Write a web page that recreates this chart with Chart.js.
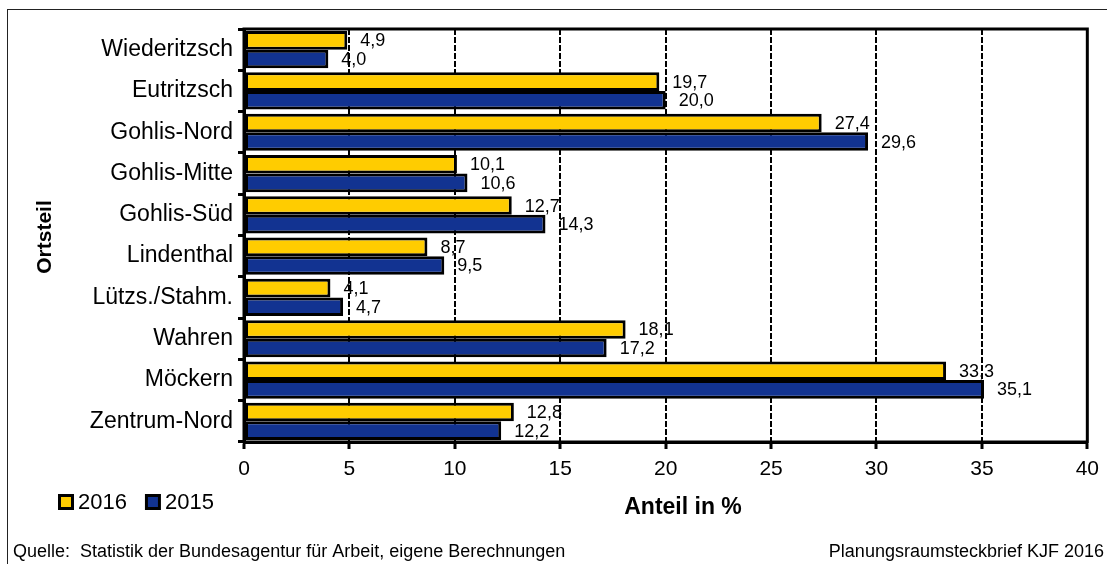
<!DOCTYPE html>
<html>
<head>
<meta charset="utf-8">
<script src="https://cdn.jsdelivr.net/npm/chart.js@4.4.0/dist/chart.umd.min.js"></script>
<style>
  html, body { margin: 0; padding: 0; background: #fff; }
  #wrap { width: 1107px; height: 564px; }
</style>
</head>
<body>
<div id="wrap"><canvas id="chart" width="1107" height="564"></canvas></div>
<script>
// data
var ortsteile = ['Wiederitzsch', 'Eutritzsch', 'Gohlis-Nord', 'Gohlis-Mitte', 'Gohlis-Süd',
                 'Lindenthal', 'Lützs./Stahm.', 'Wahren', 'Möckern', 'Zentrum-Nord'];
var werte2016 = [4.9, 19.7, 27.4, 10.1, 12.7, 8.7, 4.1, 18.1, 33.3, 12.8];
var werte2015 = [4.0, 20.0, 29.6, 10.6, 14.3, 9.5, 4.7, 17.2, 35.1, 12.2];
var jahre = ['2016', '2015'];
var xAchseMax = 40;
var xAchseSchritt = 5;

var schrift = '"Liberation Sans", Arial, sans-serif';
var gelb = '#FFCC00';
var blau = '#123391';

// frame, labels, legend, titles and footer
var rahmenPlugin = {
  id: 'rahmen',
  beforeDraw: function (chart) {
    var ctx = chart.ctx;
    ctx.save();
    ctx.fillStyle = '#fff';
    ctx.fillRect(0, 0, chart.width, chart.height);
    ctx.strokeStyle = '#222';
    ctx.lineWidth = 1;
    ctx.strokeRect(7.5, 9.5, chart.width + 20, chart.height + 20);
    ctx.restore();
  },
  afterDatasetsDraw: function (chart) {
    var ctx = chart.ctx;
    var a = chart.chartArea;
    ctx.save();
    // plot frame
    ctx.strokeStyle = '#000';
    ctx.lineWidth = 3;
    ctx.strokeRect(a.left, a.top, a.right - a.left, a.bottom - a.top);

    // value labels
    ctx.fillStyle = '#000';
    ctx.font = '18px ' + schrift;
    ctx.textAlign = 'left';
    ctx.textBaseline = 'middle';
    chart.data.datasets.forEach(function (ds, i) {
      var meta = chart.getDatasetMeta(i);
      meta.data.forEach(function (bar, j) {
        var txt = ds.data[j].toFixed(1).replace('.', ',');
        ctx.fillText(txt, bar.x + 13, bar.y + 1);
      });
    });

    // legend
    var lx = 58;
    var ly = 502;
    ctx.font = '22px ' + schrift;
    chart.data.datasets.forEach(function (ds) {
      ctx.fillStyle = '#000';
      ctx.fillRect(lx, ly - 8, 16, 16);
      ctx.fillStyle = ds.backgroundColor;
      ctx.fillRect(lx + 3, ly - 5, 10, 10);
      ctx.fillStyle = '#000';
      ctx.fillText(ds.label, lx + 20, ly + 1);
      lx += 20 + ctx.measureText(ds.label).width + 18;
    });

    // axis titles
    ctx.font = 'bold 23px ' + schrift;
    ctx.textAlign = 'center';
    ctx.fillText('Anteil in %', 683, 508);
    ctx.font = 'bold 21px ' + schrift;
    ctx.save();
    ctx.translate(45, 237);
    ctx.rotate(-Math.PI / 2);
    ctx.fillText('Ortsteil', 0, 0);
    ctx.restore();

    // footer
    ctx.font = '18px ' + schrift;
    ctx.textAlign = 'left';
    ctx.fillText('Quelle:  Statistik der Bundesagentur für Arbeit, eigene Berechnungen', 13, 552);
    ctx.textAlign = 'right';
    ctx.fillText('Planungsraumsteckbrief KJF 2016', 1104, 552);
    ctx.restore();
  }
};

var chart = new Chart(document.getElementById('chart'), {
  type: 'bar',
  data: {
    labels: ortsteile,
    datasets: [
      { label: jahre[0], data: werte2016, backgroundColor: gelb, borderColor: '#000', borderWidth: 3, borderSkipped: false },
      { label: jahre[1], data: werte2015, backgroundColor: blau, borderColor: '#000', borderWidth: 3, borderSkipped: false }
    ]
  },
  options: {
    indexAxis: 'y',
    responsive: false,
    animation: false,
    categoryPercentage: 0.9,
    barPercentage: 1.0,
    layout: { padding: { left: 14, top: 29, right: 16, bottom: 82 } },
    plugins: {
      legend: { display: false },
      tooltip: { enabled: false }
    },
    scales: {
      x: {
        min: 0,
        max: xAchseMax,
        ticks: { stepSize: xAchseSchritt, color: '#000', font: { family: schrift, size: 21 }, padding: 8 },
        grid: { color: '#000', lineWidth: 2, tickLength: 7, tickColor: '#000', tickWidth: 3, tickBorderDash: [] },
        border: { display: true, color: '#000', width: 3, dash: [6, 2] },
        afterFit: function (s) { s.height = 40; }
      },
      y: {
        ticks: { color: '#000', font: { family: schrift, size: 23 }, padding: 5 },
        grid: { drawOnChartArea: false, tickLength: 6, tickColor: '#000', tickWidth: 3 },
        border: { display: true, color: '#000', width: 3 },
        afterFit: function (s) { s.width = 230; }
      }
    }
  },
  plugins: [rahmenPlugin]
});
</script>
</body>
</html>
